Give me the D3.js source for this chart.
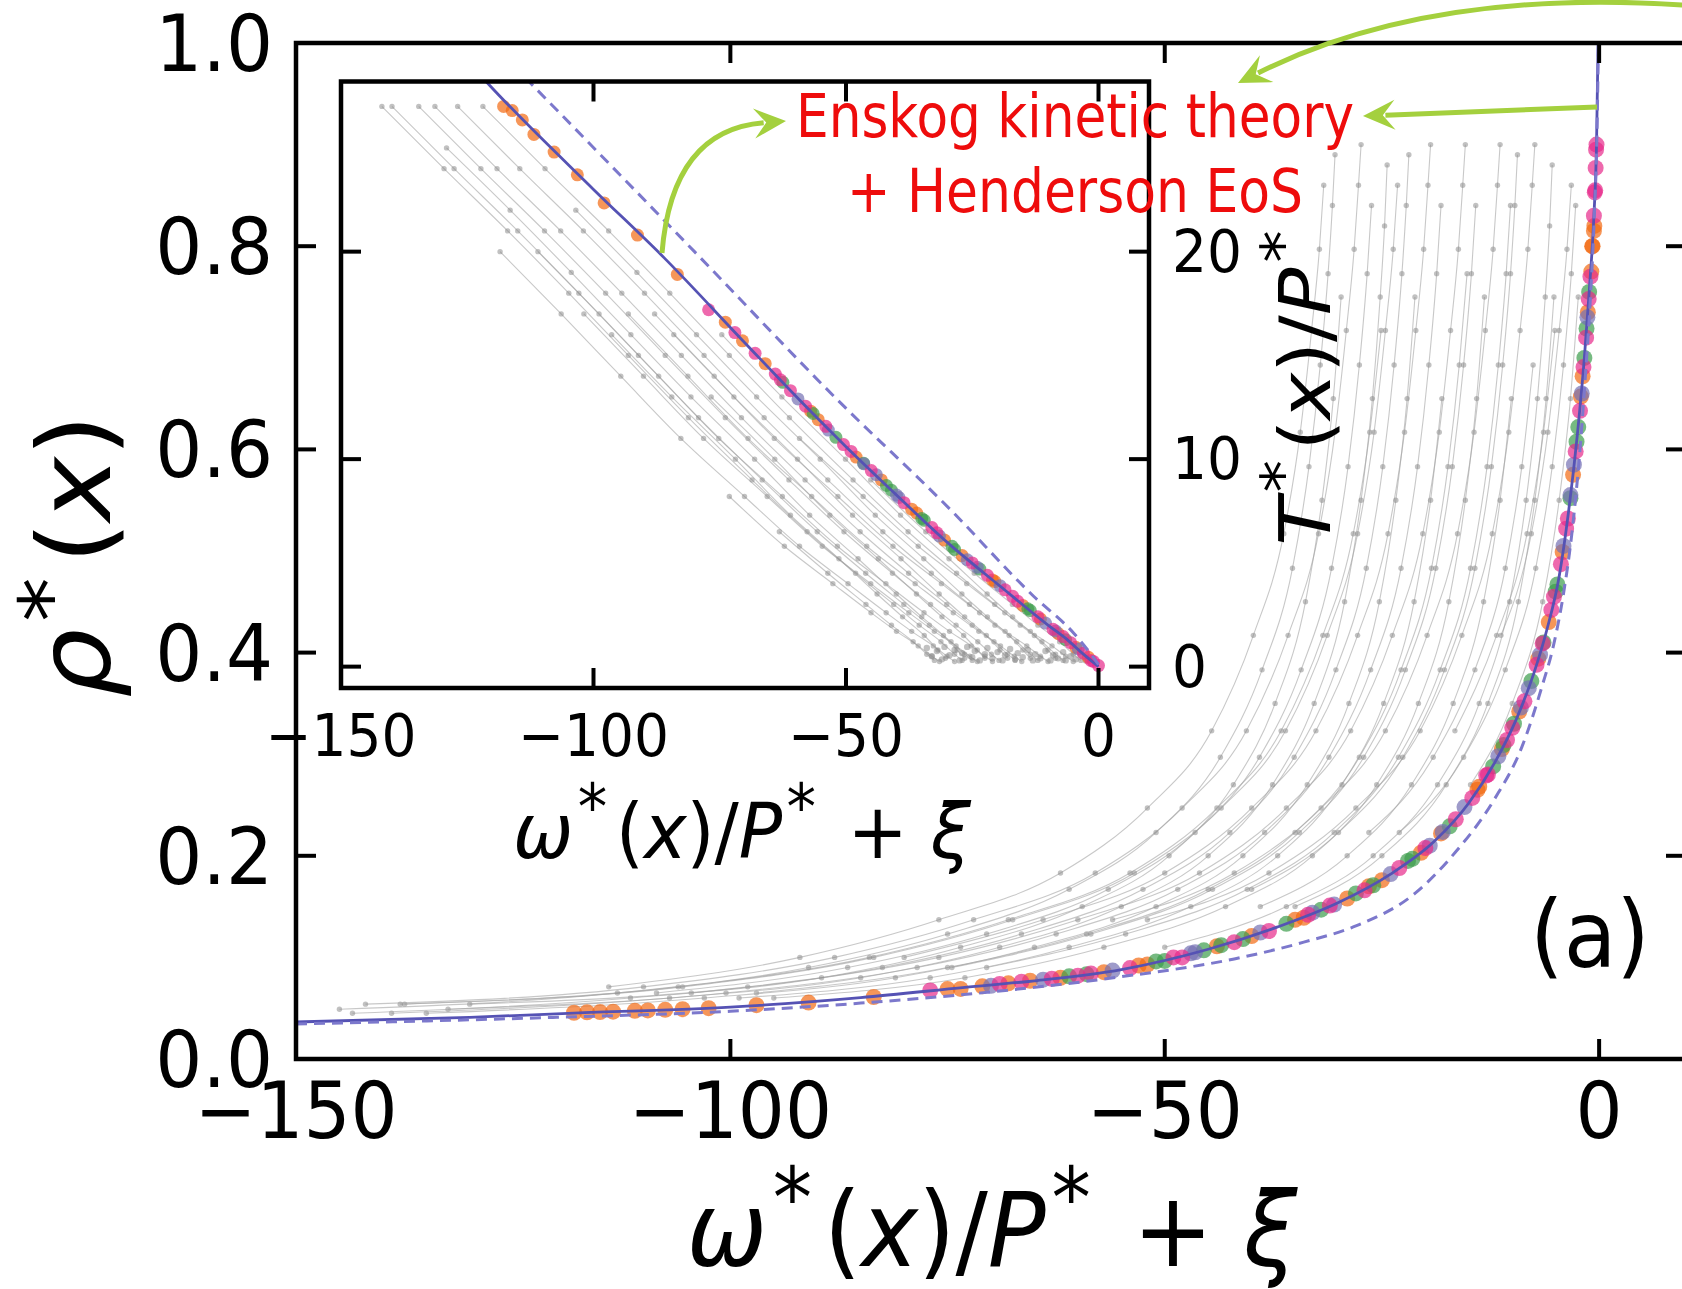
<!DOCTYPE html>
<html>
<head>
<meta charset="utf-8">
<script src="https://cdn.jsdelivr.net/npm/d3@7"></script>
<style>
  body { margin: 0; background: #fff; }
  svg { display: block; }
  text { font-family: "DejaVu Sans", sans-serif; }
</style>
</head>
<body>
<div id="chart"></div>
<script>
// ---------- data: main panel, rho*(x) vs omega*/P* + xi ----------
var mainSolid = [[-150,0.0365],[-130,0.041],[-118,0.0452],[-100,0.051],[-85,0.0605],[-73,0.0705],[-65,0.077],
  [-55,0.088],[-45,0.108],[-37,0.130],[-30,0.154],[-24,0.182],[-19,0.214],[-15,0.252],[-12,0.292],[-9.5,0.335],
  [-7.5,0.380],[-6,0.423],[-4.6,0.475],[-3.5,0.54],[-2.5,0.615],[-1.7,0.69],[-1.1,0.76],[-0.6,0.83],[-0.3,0.90],[-0.12,1.0]];
var mainDashed = [[-150,0.0345],[-120,0.041],[-100,0.047],[-85,0.055],[-70,0.066],[-55,0.081],[-42,0.0985],[-34,0.115],
  [-28,0.131],[-21.2,0.163],[-16.6,0.203],[-12.1,0.255],[-8.9,0.307],[-6.6,0.366],[-5.2,0.409],[-4.1,0.458],
  [-3.1,0.52],[-2.3,0.59],[-1.6,0.67],[-1.0,0.75],[-0.55,0.83],[-0.25,0.91],[-0.08,1.0]];

// simulation trajectories (grey): three sets of sampled rho levels,
// each trajectory = [level set, first level index, omega values]
var rhoLevels = [
  [0.045,0.06,0.08,0.11,0.15,0.2,0.27,0.35,0.45,0.55,0.65,0.75,0.82,0.88],
  [0.049,0.065,0.09,0.123,0.167,0.223,0.297,0.383,0.483,0.583,0.683,0.773,0.84,0.89],
  [0.054,0.071,0.1,0.137,0.183,0.247,0.323,0.417,0.517,0.617,0.717,0.797,0.86,0.9]
];
var mainTraj = [
  [0,6,[-14.8,-10.0,-6.5,-4.6,-3.3,-2.4]],
  [1,5,[-23,-15.6,-10.8,-7.3,-5.4,-4.1,-3.2,-2.7]],
  [2,6,[-16.6,-11.8,-8.3,-6.4,-5.1]],
  [2,7,[-11.3,-7.8,-5.9,-4.6,-3.7,-3.2]],
  [0,4,[-35,-25,-17.6,-12.8,-9.3,-7.4,-6.1,-5.2]],
  [0,3,[-50,-36,-26,-18.6,-13.8,-10.3,-8.4,-7.1,-6.2,-5.7,-5.4]],
  [1,5,[-26.5,-19.1,-14.3,-10.8,-8.9,-7.6]],
  [2,3,[-52,-38,-28,-20.6,-15.8,-12.3,-10.4,-9.1,-8.2,-7.7,-7.4]],
  [0,4,[-39,-29,-21.6,-16.8,-13.3,-11.4,-10.1]],
  [1,4,[-40,-30,-22.6,-17.8,-14.3,-12.4,-11.1,-10.2,-9.7,-9.4]],
  [1,2,[-70.5,-54.5,-40.5,-30.5,-23.1,-18.3,-14.8,-12.9,-11.6,-10.7,-10.2]],
  [2,3,[-56,-42,-32,-24.6,-19.8,-16.3,-14.4,-13.1,-12.2,-11.7,-11.4]],
  [0,1,[-95,-73,-57,-43,-33,-25.6,-20.8,-17.3,-15.4,-14.1,-13.2]],
  [1,2,[-74.5,-58.5,-44.5,-34.5,-27.1,-22.3,-18.8,-16.9,-15.6,-14.7,-14.2]],
  [1,1,[-97,-75,-59,-45,-35,-27.6,-22.8,-19.3,-17.4,-16.1,-15.2]],
  [2,0,[-130,-98,-76,-60,-46,-36,-28.6,-23.8,-20.3,-18.4,-17.1,-16.2,-15.7,-15.4]],
  [0,1,[-99,-77,-61,-47,-37,-29.6,-24.8,-21.3,-19.4,-18.1]],
  [1,0,[-132.5,-100.5,-78.5,-62.5,-48.5,-38.5,-31.1,-26.3,-22.8,-20.9,-19.6,-18.7,-18.2]],
  [2,2,[-80,-64,-50,-40,-32.6,-27.8,-24.3,-22.4,-21.1,-20.2,-19.7,-19.4]],
  [0,0,[-135,-103,-81,-65,-51,-41,-33.6,-28.8,-25.3,-23.4,-22.1,-21.2]],
  [1,1,[-104.5,-82.5,-66.5,-52.5,-42.5,-35.1,-30.3,-26.8,-24.9,-23.6,-22.7,-22.2,-21.9]],
  [2,0,[-137.5,-105.5,-83.5,-67.5,-53.5,-43.5,-36.1,-31.3,-27.8,-25.9,-24.6,-23.7,-23.2]],
  [2,0,[-138,-106,-84,-68,-54,-44,-36.6,-31.8,-28.3,-26.4,-25.1]],
  [0,0,[-139,-107,-85,-69,-55,-45,-37.6,-32.8,-29.3,-27.4,-26.1,-25.2,-24.7,-24.4]],
  [1,1,[-108.5,-86.5,-70.5,-56.5,-46.5,-39.1,-34.3,-30.8,-28.9,-27.6,-26.7,-26.2]],
  [2,0,[-142,-110,-88,-72,-58,-48,-40.6,-35.8,-32.3,-30.4,-29.1,-28.2,-27.7,-27.4]],
  [0,0,[-143.5,-111.5,-89.5,-73.5,-59.5,-49.5,-42.1,-37.3,-33.8,-31.9,-30.6,-29.7]],
  [1,0,[-145,-113,-91,-75,-61,-51,-43.6,-38.8,-35.3,-33.4,-32.1,-31.2,-30.7,-30.4]],
  [2,1,[-114,-92,-76,-62,-52,-44.6,-39.8,-36.3,-34.4,-33.1,-32.2,-31.7]]
];

// coloured markers sitting on the theory curve
var mainOrange = [[-118,0.0455],[-116.5,0.046],[-115,0.0462],[-113.5,0.0466],[-111,0.0474],[-109.5,0.0478],[-107.5,0.0484],
  [-105.5,0.049],[-102.5,0.05],[-97,0.053],[-91,0.0555],[-83.5,0.061],[-75,0.0688],[-73.5,0.069],[-71,0.0715],[-68,0.0745],
  [-65.5,0.077],[-62,0.080],[-57,0.0855],[-53,0.092],[-52,0.093],[-44,0.111],[-40,0.121],[-35,0.137],[-34,0.139],[-29,0.158],
  [-26.5,0.170],[-25,0.176],[-20.5,0.203],[-18.2,0.222],[-14,0.265],[-13.8,0.268],[-11.2,0.305],[-9.2,0.342],[-7,0.394],
  [-5.8,0.43],[-4.2,0.499],[-3.0,0.575],[-2.1,0.652],[-1.9,0.672],[-1.3,0.735],[-0.9,0.775],[-0.8,0.80],[-0.75,0.80],
  [-0.6,0.815],[-0.55,0.82]];
var mainPink = [[-77,0.0675],[-69,0.0738],[-66.5,0.076],[-63,0.079],[-60,0.082],[-58.5,0.0842],[-54,0.0895],[-49,0.100],
  [-48,0.100],[-42,0.115],[-38,0.126],[-33.5,0.142],[-31,0.151],[-27,0.166],[-23,0.188],[-20,0.2076],[-16.5,0.236],
  [-14.6,0.257],[-13,0.279],[-12.8,0.28],[-10.6,0.314],[-10,0.326],[-8.6,0.352],[-7.2,0.388],[-6.5,0.409],[-5.5,0.442],
  [-5.2,0.455],[-4.4,0.487],[-3.8,0.522],[-3.6,0.532],[-2.7,0.598],[-2.2,0.638],[-1.8,0.681],[-1.5,0.71],[-1.2,0.748],
  [-1.0,0.77],[-0.6,0.83],[-0.5,0.853],[-0.45,0.855],[-0.4,0.877],[-0.35,0.895],[-0.3,0.90]];
var mainGreen = [[-61,0.0814],[-59,0.0835],[-51,0.096],[-50,0.0965],[-45.5,0.107],[-43.5,0.112],[-41,0.118],[-36,0.133],
  [-32,0.147],[-28,0.163],[-26,0.171],[-22,0.195],[-21.5,0.197],[-17.2,0.229],[-12.2,0.288],[-11,0.309],[-9.8,0.33],
  [-7.8,0.372],[-6.4,0.41],[-5,0.46],[-4.8,0.467],[-3.3,0.552],[-2.6,0.6075],[-2.4,0.622],[-1.7,0.69],[-1.45,0.719],[-1.15,0.755]];
var mainPurple = [[-70,0.072],[-64,0.0781],[-56,0.087],[-47,0.104],[-46.5,0.105],[-39,0.1245],[-33,0.144],[-30.5,0.152],
  [-24,0.182],[-19.5,0.21],[-18,0.2235],[-15.5,0.248],[-11.6,0.298],[-9,0.346],[-8.1,0.365],[-6.8,0.398],[-4.1,0.505],
  [-3.3,0.555],[-2.9,0.585],[-2.0,0.655],[-1.35,0.73]];

// ---------- data: inset, T*(x)/P* vs omega*/P* + xi ----------
var insetSolid = [[-125,29.2],[-121,28.13],[-100,23.0],[-86,19.7],[-70,15.6],[-59,12.8],[-50,10.6],[-41,8.5],[-30,6.0],
  [-19.4,3.86],[-10,2.0],[-6.2,1.3],[-3,0.6],[0,0]];
var insetDashed = [[-116,29.0],[-112.5,28.13],[-80,20.0],[-51.7,12.86],[-29.3,7.56],[-12.8,3.38],[-4.9,1.61],[-1.5,0.6],[0,0.1]];

var tLevels = [
  [27,24,21,18,15,12,9,6.5,4.5,3,2,1.2,0.6,0.3],
  [28,25,22,19,16,13,10,7.3,5.2,3.5,2.4,1.5,0.8,0.4],
  [26,23,20,17,14,11,8.2,5.8,4.0,2.6,1.7,1.0,0.5,0.25]
];
var insetTraj = [
  [0,6,[-45.1,-34.2,-24.6,-17.05,-12,-7.7,-5,-3.5]],
  [2,5,[-59.2,-46.6,-35.7,-26.1,-18.55,-13.5,-9.2,-6.5,-5]],
  [0,0,[-121.9,-109.6,-97,-84.9,-73.1,-61.2,-48.6,-37.7,-28.1,-20.55,-15.5,-11.2,-8.5,-7]],
  [1,4,[-74.6,-62.7,-50.1,-39.2,-29.6,-22.05,-17,-12.7,-10,-8.5]],
  [2,3,[-87.9,-76.1,-64.2,-51.6,-40.7,-31.1,-23.55,-18.5,-14.2,-11.5,-10]],
  [0,0,[-126.9,-114.6,-102,-89.9,-78.1,-66.2,-53.6,-42.7,-33.1,-25.55,-20.5,-16.2,-13.5,-12]],
  [1,2,[-103.5,-91.4,-79.6,-67.7,-55.1,-44.2,-34.6,-27.05,-22,-17.7,-15,-13.5]],
  [2,3,[-93.1,-81.3,-69.4,-56.8,-45.9,-36.3,-28.75,-23.7,-19.4,-16.7,-15.2]],
  [0,0,[-131.4,-119.1,-106.5,-94.4,-82.6,-70.7,-58.1,-47.2,-37.6,-30.05,-25,-20.7,-18,-16.5]],
  [1,4,[-84.1,-72.2,-59.6,-48.7,-39.1,-31.55,-26.5,-22.2,-19.5,-18]],
  [0,0,[-134.6,-122.3,-109.7,-97.6,-85.8,-73.9,-61.3,-50.4,-40.8,-33.25,-28.2,-23.9,-21.2,-19.7]],
  [2,2,[-111,-98.9,-87.1,-75.2,-62.6,-51.7,-42.1,-34.55,-29.5,-25.2,-22.5,-21]],
  [1,5,[-76.7,-64.1,-53.2,-43.6,-36.05,-31,-26.7,-24,-22.5]],
  [2,3,[-101.9,-90.1,-78.2,-65.6,-54.7,-45.1,-37.55,-32.5,-28.2,-25.5,-24]],
  [0,0,[-139.9,-127.6,-115,-102.9,-91.1,-79.2,-66.6,-55.7,-46.1,-38.55,-33.5,-29.2,-26.5,-25]],
  [1,1,[-129.1,-116.5,-104.4,-92.6,-80.7,-68.1,-57.2,-47.6,-40.05,-35,-30.7,-28,-26.5]],
  [0,0,[-141.9,-129.6,-117,-104.9,-93.1,-81.2,-68.6,-57.7,-48.1,-40.55,-35.5,-31.2,-28.5,-27]],
  [2,2,[-118.5,-106.4,-94.6,-82.7,-70.1,-59.2,-49.6,-42.05,-37,-32.7,-30,-28.5]],
  [1,4,[-96.4,-84.5,-71.9,-61,-51.4,-43.85,-38.8,-34.5,-31.8,-30.3]],
  [2,6,[-73.1,-62.2,-52.6,-45.05,-40,-35.7,-33,-31.5]],
  [0,7,[-63.2,-53.6,-46.05,-41,-36.7,-34,-32.5]]
];
// dense grey samples piled up near the wall (bottom of the inset)
var insetWall = [[-34,0.9],[-33,0.5],[-32,0.75],[-31,0.35],[-30.5,0.95],[-29.5,0.55],[-28.5,0.8],[-27.5,0.3],[-27,0.65],
  [-26,0.95],[-25,0.45],[-24.5,0.75],[-23.5,0.3],[-22.5,0.6],[-22,0.9],[-21,0.4],[-20,0.7],[-19,0.3],[-18.5,0.55],
  [-17.5,0.85],[-16.5,0.35],[-16,0.65],[-15,0.45],[-14,0.8],[-13,0.3],[-12.5,0.6],[-11.5,0.4],[-10.5,0.75],[-9.5,0.3],
  [-9,0.55],[-8,0.4],[-7,0.7],[-6.5,0.3],[-5.5,0.5],[-4.5,0.35],[-3.5,0.55],[-2.5,0.3]];

var insetOrange = [[-117.8,27.0],[-116.1,26.8],[-114.1,26.35],[-111.8,25.65],[-107.8,24.8],[-103.2,23.7],[-97.9,22.35],
  [-91.3,20.8],[-83.4,18.9],[-73.9,16.6],[-70.5,15.7],[-66,14.6],[-57,12.31],[-55.5,11.9],[-48,10.1],[-43,9.0],[-37,7.59],
  [-36,7.4],[-30.5,6.1],[-27,5.35],[-21,4.18],[-20.5,4.1],[-15,2.95],[-11.5,2.3],[-8,1.6],[-4.5,0.93],[-2,0.45]];
var insetPink = [[-77.2,17.2],[-72,16.1],[-68,15.1],[-64,14.1],[-63,13.82],[-61,13.3],[-58,12.55],[-54,11.58],[-50.5,10.7],
  [-49,10.37],[-45,9.45],[-38.5,7.9],[-33,6.7],[-32,6.45],[-25,5.0],[-22,4.4],[-18.5,3.7],[-17,3.39],[-16,3.15],[-12,2.4],
  [-9,1.8],[-7,1.45],[-5.5,1.15],[-3,0.65],[-1.5,0.3],[-1,0.25],[0,0.05]];
var insetGreen = [[-62.5,13.7],[-56.5,12.2],[-52,11.05],[-46.5,9.8],[-42,8.73],[-41,8.5],[-35,7.14],[-34.5,7.05],
  [-29,5.8],[-28.5,5.65],[-23.5,4.7],[-14,2.79],[-13.5,2.7],[-6.5,1.3]];
var insetPurple = [[-59.5,12.9],[-53.5,11.4],[-46.5,9.78],[-44,9.25],[-40,8.27],[-39.5,8.15],[-31.5,6.3],[-26,5.15],
  [-24,4.79],[-19.5,3.9],[-10.5,2.1],[-8.5,1.72],[-4,0.85]];

var xTicks = [-150, -100, -50, 0];
var mainYTicks = [0, 0.2, 0.4, 0.6, 0.8, 1.0];
var insetYTicks = [0, 10, 20];

// ---------- layout ----------
var W = 1682, H = 1289;
var markerColors = { orange: "#f26a12", pink: "#e7298a", green: "#3c9c4c", purple: "#7570b3" };
var solidColor = "#5552b4", dashedColor = "#7c78cc";
var arrowColor = "#a4d03e";
var stretch = 1.07;   // the original figure is slightly taller than wide

var svg = d3.select("#chart").append("svg")
    .attr("width", W)
    .attr("height", H);

var mainBox = { left: 296, right: 1686, top: 43, bottom: 1059 };
var insetBox = { left: 341, right: 1149, top: 81.5, bottom: 688 };

var x = d3.scaleLinear().domain([-150, 10]).range([mainBox.left, mainBox.right]);
var y = d3.scaleLinear().domain([0, 1]).range([mainBox.bottom, mainBox.top]);
var xi = d3.scaleLinear().domain([-150, 10]).range([insetBox.left, insetBox.right]);
var yi = d3.scaleLinear().domain([-1.03, 28.2]).range([insetBox.bottom, insetBox.top]);

var defs = svg.append("defs");
function addClip(id, b) {
    defs.append("clipPath").attr("id", id).append("rect")
        .attr("x", b.left).attr("y", b.top)
        .attr("width", b.right - b.left).attr("height", b.bottom - b.top);
}
addClip("mainClip", mainBox);
addClip("insetClip", insetBox);

function greyDots(g, pts, sx, sy, r) {
    g.selectAll(null).data(pts).join("circle")
        .attr("cx", function (d) { return sx(d[0]); })
        .attr("cy", function (d) { return sy(d[1]); })
        .attr("r", r)
        .attr("fill", "#888")
        .attr("fill-opacity", 0.52);
}

// grey trajectories, coloured markers and theory curves of one panel
function drawPanel(g, sx, sy, levelSets, trajs, extraGrey, markers, solid, dashed, rMarker) {
    var line = d3.line()
        .x(function (d) { return sx(d[0]); })
        .y(function (d) { return sy(d[1]); })
        .curve(d3.curveMonotoneX);

    var grey = g.append("g");
    trajs.forEach(function (t) {
        var lv = levelSets[t[0]];
        var pts = t[2].map(function (w, i) { return [w, lv[t[1] + i]]; });
        grey.append("path").datum(pts)
            .attr("d", line)
            .attr("fill", "none")
            .attr("stroke", "#a4a4a4")
            .attr("stroke-opacity", 0.6)
            .attr("stroke-width", 1.1);
        greyDots(grey, pts, sx, sy, 2.7);
    });
    if (extraGrey) greyDots(grey, extraGrey, sx, sy, 3.2);

    markers.forEach(function (m) {
        g.append("g").selectAll("circle").data(m[0]).join("circle")
            .attr("cx", function (d) { return sx(d[0]); })
            .attr("cy", function (d) { return sy(d[1]); })
            .attr("r", rMarker)
            .attr("fill", m[1])
            .attr("fill-opacity", 0.7);
    });

    g.append("path").datum(solid)
        .attr("d", line)
        .attr("fill", "none")
        .attr("stroke", solidColor)
        .attr("stroke-width", 2.8);
    g.append("path").datum(dashed)
        .attr("d", line)
        .attr("fill", "none")
        .attr("stroke", dashedColor)
        .attr("stroke-width", 3)
        .attr("stroke-dasharray", "11,7");
}

// frame with inward ticks on all four sides
function drawFrame(g, sx, sy, b, xt, yt) {
    var tl = 20;
    var tick = g.append("g").attr("stroke", "#000").attr("stroke-width", 4);
    xt.forEach(function (v) {
        tick.append("line").attr("x1", sx(v)).attr("x2", sx(v)).attr("y1", b.bottom).attr("y2", b.bottom - tl);
        tick.append("line").attr("x1", sx(v)).attr("x2", sx(v)).attr("y1", b.top).attr("y2", b.top + tl);
    });
    yt.forEach(function (v) {
        tick.append("line").attr("y1", sy(v)).attr("y2", sy(v)).attr("x1", b.left).attr("x2", b.left + tl);
        tick.append("line").attr("y1", sy(v)).attr("y2", sy(v)).attr("x1", b.right).attr("x2", b.right - tl);
    });
    g.append("rect")
        .attr("x", b.left).attr("y", b.top)
        .attr("width", b.right - b.left).attr("height", b.bottom - b.top)
        .attr("fill", "none")
        .attr("stroke", "#000")
        .attr("stroke-width", 4.5);
}

// tick labels, stretched a little vertically like the original
function tickLabels(values, px, py, fs, anchor, fmt) {
    svg.append("g").selectAll("text").data(values).join("text")
        .attr("transform", function (d) {
            return "translate(" + px(d) + "," + py(d) + ") scale(1," + stretch + ")";
        })
        .attr("text-anchor", anchor)
        .attr("font-size", fs)
        .text(fmt);
}

// math-style label: parts of [text, kind] with kind i (italic), r (roman), s (superscript)
function mathText(transform, parts, fs, raise) {
    raise = raise || 0.38;
    var t = svg.append("text")
        .attr("transform", transform)
        .attr("text-anchor", "middle")
        .attr("font-size", fs)
        .attr("fill", "#000");
    var raised = false;
    parts.forEach(function (p) {
        var sp = t.append("tspan").text(p[0]);
        if (p[1] === "i") sp.attr("font-style", "italic");
        if (p[1] === "s") {
            sp.attr("font-size", fs * 0.82).attr("dy", -raise * fs).attr("dx", 0.06 * fs);
            raised = true;
        } else if (raised) {
            sp.attr("dy", raise * fs).attr("dx", 0.12 * fs);
            raised = false;
        }
    });
    return t;
}

var fmtMain = d3.format(".1f"), fmtInt = d3.format("d");

// ---------- main panel ----------
var mainG = svg.append("g").attr("clip-path", "url(#mainClip)");
drawPanel(mainG, x, y, rhoLevels, mainTraj, null,
    [[mainOrange, markerColors.orange], [mainGreen, markerColors.green],
     [mainPurple, markerColors.purple], [mainPink, markerColors.pink]],
    mainSolid, mainDashed, 8);
drawFrame(svg.append("g"), x, y, mainBox, xTicks, mainYTicks);

tickLabels(xTicks, x, function () { return 1138; }, 74, "middle", fmtInt);
tickLabels(mainYTicks, function () { return 273; }, function (d) { return y(d) + 28; }, 74, "end", fmtMain);

var omegaLabel = [["ω", "i"], ["*", "s"], ["(", "r"], ["x", "i"], [")/", "r"], ["P", "i"], ["*", "s"], ["\u00a0+\u00a0", "r"], ["ξ", "i"]];
mathText("translate(992,1266) scale(1," + stretch + ")", omegaLabel, 96);
mathText("translate(110,556) rotate(-90) scale(" + stretch + ",1)",
    [["ρ", "i"], ["*", "s"], ["(", "r"], ["x", "i"], [")", "r"]], 102, 0.3);

svg.append("text")
    .attr("transform", "translate(1590,967) scale(1," + stretch + ")")
    .attr("text-anchor", "middle")
    .attr("font-size", 86)
    .text("(a)");

// ---------- inset ----------
svg.append("rect")
    .attr("x", insetBox.left).attr("y", insetBox.top)
    .attr("width", insetBox.right - insetBox.left).attr("height", insetBox.bottom - insetBox.top)
    .attr("fill", "#fff");
var insetG = svg.append("g").attr("clip-path", "url(#insetClip)");
drawPanel(insetG, xi, yi, tLevels, insetTraj, insetWall,
    [[insetOrange, markerColors.orange], [insetGreen, markerColors.green],
     [insetPurple, markerColors.purple], [insetPink, markerColors.pink]],
    insetSolid, insetDashed, 6.5);
drawFrame(svg.append("g"), xi, yi, insetBox, xTicks, insetYTicks);

tickLabels(xTicks, xi, function () { return 756; }, 55, "middle", fmtInt);
tickLabels(insetYTicks, function () { return 1172; }, function (d) { return yi(d) + 20; }, 55, "start", fmtInt);

mathText("translate(742,858) scale(1," + stretch + ")", omegaLabel, 72);
mathText("translate(1330,388) rotate(-90) scale(1.1,1)",
    [["T", "i"], ["*", "s"], ["(", "r"], ["x", "i"], [")/", "r"], ["P", "i"], ["*", "s"]], 72);

// ---------- annotation ----------
function redNote(txt, x0, y0, len) {
    svg.append("text")
        .attr("x", x0).attr("y", y0)
        .attr("font-family", "Lato, 'Open Sans', sans-serif")
        .attr("font-size", 61)
        .attr("fill", "#ee0c0c")
        .attr("textLength", len)
        .attr("lengthAdjust", "spacingAndGlyphs")
        .text(txt);
}
redNote("Enskog kinetic theory", 796, 137, 558);
redNote("+ Henderson EoS", 847, 212, 456);

// green arrows: [start, control (or null), tip]
var arrows = [
    [[1597, 107], null, [1363, 116]],
    [[1720, 8], [1440, -18], [1238, 83]],
    [[662, 253], [672, 130], [786, 121]]
];
var ag = svg.append("g");
arrows.forEach(function (a) {
    var p0 = a[0], c = a[1] || a[0], tip = a[2];
    var dx = tip[0] - c[0], dy = tip[1] - c[1];
    var len = Math.sqrt(dx * dx + dy * dy), ux = dx / len, uy = dy / len;
    var hl = 32, hw = 15;
    var end = [tip[0] - ux * hl * 0.7, tip[1] - uy * hl * 0.7];
    var p = d3.path();
    p.moveTo(p0[0], p0[1]);
    if (a[1]) p.quadraticCurveTo(c[0], c[1], end[0], end[1]);
    else p.lineTo(end[0], end[1]);
    ag.append("path").attr("d", p.toString())
        .attr("fill", "none")
        .attr("stroke", arrowColor)
        .attr("stroke-width", 5);
    var bx = tip[0] - ux * hl, by = tip[1] - uy * hl;
    ag.append("path")
        .attr("d", "M" + tip[0] + "," + tip[1] +
            "L" + (bx - uy * hw) + "," + (by + ux * hw) +
            "L" + (tip[0] - ux * hl * 0.62) + "," + (tip[1] - uy * hl * 0.62) +
            "L" + (bx + uy * hw) + "," + (by - ux * hw) + "Z")
        .attr("fill", arrowColor);
});
</script>
</body>
</html>
